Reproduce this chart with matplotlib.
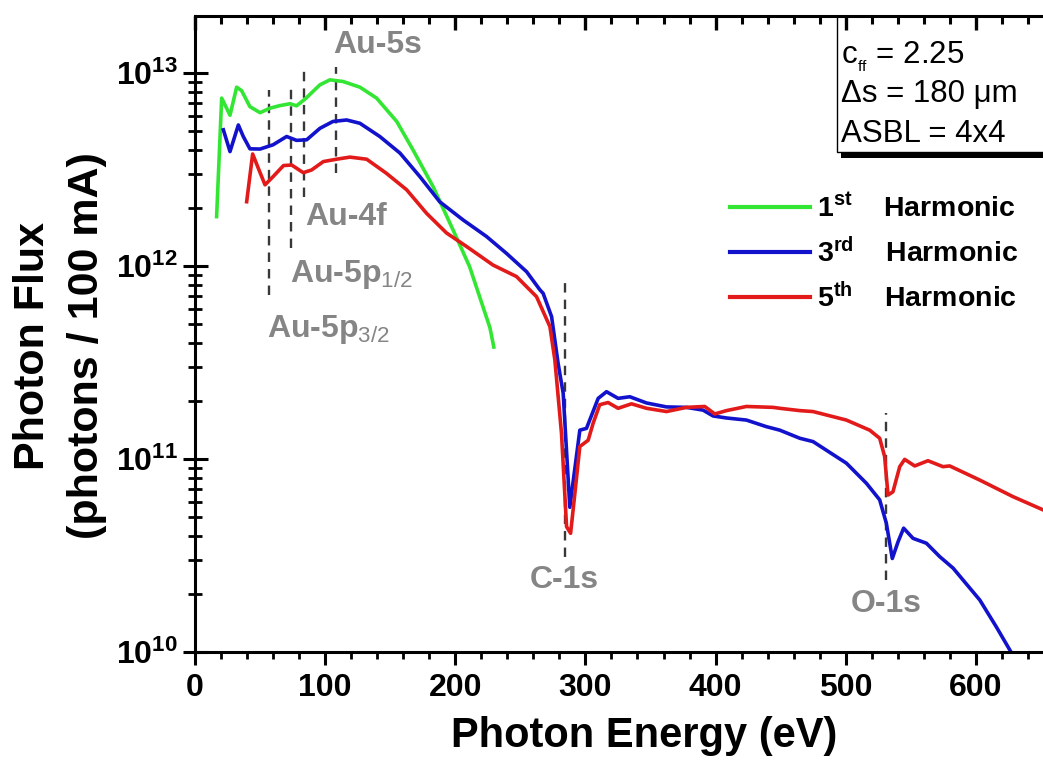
import numpy as np
import matplotlib
matplotlib.use("Agg")
import matplotlib.pyplot as plt
from matplotlib.ticker import LogLocator, FuncFormatter, NullFormatter, MultipleLocator
from matplotlib.patches import Rectangle

plt.rcParams['font.family'] = ['Liberation Sans', 'DejaVu Sans']
plt.rcParams['mathtext.fontset'] = 'custom'
plt.rcParams['mathtext.rm'] = 'Liberation Sans'
plt.rcParams['mathtext.bf'] = 'Liberation Sans:bold'
plt.rcParams['mathtext.it'] = 'Liberation Sans:italic'

# ---- data (photon energy in eV, flux in photons/100 mA)
h1_energy = [16.6, 20.5, 26.9, 32.0, 35.8, 42.2, 50.0, 57.6, 65.0, 73.0, 78.0, 84.5,
             96.0, 103.7, 113.7, 126.7, 139.5, 155.0, 167.6, 183.0, 198.4, 211.0,
             226.6, 229.6]
h1_flux = [1.80e12, 7.40e12, 6.03e12, 8.43e12, 8.09e12, 6.68e12, 6.22e12, 6.56e12,
           6.76e12, 6.92e12, 6.75e12, 7.31e12, 8.67e12, 9.20e12, 9.02e12, 8.43e12,
           7.40e12, 5.60e12, 3.98e12, 2.57e12, 1.53e12, 9.91e11, 4.79e11, 3.80e11]

h3_energy = [21.8, 26.9, 33.3, 37.1, 42.2, 50.0, 60.0, 70.4, 78.0, 85.8, 96.0, 106.0,
             116.5, 126.7, 142.0, 157.5, 172.8, 188.0, 206.0, 224.0, 239.4, 254.8,
             265.0, 267.5, 274.0, 279.0, 282.9, 288.0, 295.7, 300.8, 309.8, 316.2,
             325.1, 334.1, 346.9, 362.3, 377.6, 390.4, 398.1, 408.4, 423.7, 439.0,
             449.3, 464.7, 474.9, 500.5, 515.9, 526.1, 531.2, 535.8, 540.2, 544.5,
             551.7, 562.0, 572.2, 582.5, 603.0, 615.7, 627.0]
h3_flux = [5.07e12, 3.91e12, 5.37e12, 4.68e12, 4.04e12, 4.03e12, 4.24e12, 4.68e12,
           4.47e12, 4.50e12, 5.16e12, 5.60e12, 5.70e12, 5.48e12, 4.68e12, 3.84e12,
           2.90e12, 2.15e12, 1.73e12, 1.42e12, 1.16e12, 9.33e11, 7.52e11, 7.21e11,
           5.46e11, 3.13e11, 2.19e11, 5.62e10, 1.41e11, 1.44e11, 2.06e11, 2.23e11,
           2.06e11, 2.10e11, 1.95e11, 1.86e11, 1.85e11, 1.79e11, 1.67e11, 1.63e11,
           1.59e11, 1.47e11, 1.41e11, 1.28e11, 1.23e11, 9.51e10, 7.48e10, 6.14e10,
           4.65e10, 3.05e10, 3.72e10, 4.38e10, 3.88e10, 3.66e10, 3.12e10, 2.72e10,
           1.86e10, 1.35e10, 1.00e10]

h5_energy = [39.7, 44.3, 48.6, 53.8, 60.0, 68.0, 74.3, 83.2, 89.6, 98.6, 108.8, 119.0,
             131.9, 147.0, 162.6, 178.0, 193.3, 208.7, 229.0, 247.0, 262.4, 272.7,
             276.5, 281.6, 285.5, 288.6, 291.9, 295.7, 302.1, 305.9, 311.0, 317.4,
             325.1, 335.4, 346.9, 362.3, 377.6, 391.7, 399.4, 408.4, 423.7, 444.2,
             449.3, 464.7, 474.9, 500.5, 518.4, 526.1, 529.9, 532.5, 536.3, 541.5,
             545.3, 553.0, 563.2, 574.7, 579.9, 602.9, 628.5, 651.6]
h5_flux = [2.15e12, 3.80e12, 3.21e12, 2.63e12, 2.90e12, 3.31e12, 3.33e12, 3.04e12,
           3.14e12, 3.47e12, 3.57e12, 3.66e12, 3.57e12, 3.02e12, 2.48e12, 1.87e12,
           1.48e12, 1.26e12, 1.01e12, 8.81e11, 6.93e11, 4.85e11, 3.26e11, 1.36e11,
           4.46e10, 4.12e10, 6.64e10, 1.16e11, 1.25e11, 1.53e11, 1.91e11, 1.96e11,
           1.83e11, 1.93e11, 1.83e11, 1.76e11, 1.85e11, 1.87e11, 1.71e11, 1.78e11,
           1.87e11, 1.85e11, 1.83e11, 1.78e11, 1.76e11, 1.59e11, 1.41e11, 1.28e11,
           1.03e11, 6.50e10, 6.76e10, 9.12e10, 9.95e10, 9.20e10, 9.79e10, 9.12e10,
           9.20e10, 7.78e10, 6.38e10, 5.45e10]

# absorption edges: label, energy, dashed line bottom/top
edge_names = ['Au-5p$_{3/2}$', 'Au-5p$_{1/2}$', 'Au-4f', 'Au-5s', 'C-1s', 'O-1s']
edge_energy = [57, 74, 84, 108, 284, 531]
edge_low = [7.08e11, 1.24e12, 2.28e12, 3.03e12, 3.10e10, 2.36e10]
edge_high = [8.17e12, 8.67e12, 1.04e13, 1.07e13, 8.67e11, 1.73e11]
# label anchor (x, y baseline, alignment)
label_x = [55.3, 73, 84.5, 106, 284, 531]
label_y = [4.3e11, 8.3e11, 1.63e12, 1.27e13, 2.15e10, 1.62e10]
label_ha = ['left', 'left', 'left', 'left', 'center', 'center']

info_lines = ['c$_{{}_{\\rm ff}}$ = 2.25', '\u0394s = 180 \u03bcm', 'ASBL = 4x4']
harmonics = ['1$^{\\mathbf{st}}\\quad$ Harmonic', '3$^{\\mathbf{rd}}\\quad$ Harmonic',
             '5$^{\\mathbf{th}}\\quad$ Harmonic']

W, H = 1043, 760
fig = plt.figure(figsize=(W / 100, H / 100), dpi=100)
ax_l, ax_r, ax_t, ax_b = 195, 1106, 16, 652
rect = [ax_l / W, 1 - ax_b / H, (ax_r - ax_l) / W, (ax_b - ax_t) / H]
ax = fig.add_axes(rect)

l1, = ax.plot(h1_energy, h1_flux, color='#33e633', lw=2.6)
l3, = ax.plot(h3_energy, h3_flux, color='#1212cc', lw=2.6)
l5, = ax.plot(h5_energy, h5_flux, color='#e31a1a', lw=2.6)

ax.set_yscale('log')
ax.set_xlim(0, 700)
ax.set_ylim(1e10, 1.97e13)

ax.vlines(edge_energy, edge_low, edge_high, colors='#383838',
          linestyles=(0, (4, 3)), lw=1.7, zorder=1)
for name, x, y, ha in zip(edge_names, label_x, label_y, label_ha):
    ax.text(x, y, name, ha=ha, va='baseline', fontsize=23,
            fontweight='bold', color='#858585')

# axes styling
for side in ['left', 'bottom', 'top']:
    ax.spines[side].set_linewidth(2.2)
    ax.spines[side].set_zorder(10)
ax.spines['right'].set_visible(False)

ax.set_xticks(range(0, 601, 100))
ax.xaxis.set_minor_locator(MultipleLocator(20))
ax.yaxis.set_major_locator(LogLocator(base=10, numticks=10))
ax.yaxis.set_minor_locator(LogLocator(base=10, subs=np.arange(2, 10), numticks=10))
ax.yaxis.set_minor_formatter(NullFormatter())
ax.yaxis.set_major_formatter(FuncFormatter(
    lambda v, p: r'$\mathbf{10^{%d}}$' % round(np.log10(v))))

ax.tick_params(axis='x', which='major', direction='out', length=9, width=2.2,
               labelsize=23, pad=6, top=False)
ax.tick_params(axis='x', which='minor', direction='out', length=5, width=2,
               top=False)
ax.tick_params(axis='y', which='major', direction='inout', length=18, width=2.2,
               labelsize=23, pad=3, right=False)
ax.tick_params(axis='y', which='minor', direction='inout', length=10, width=2,
               right=False)
for lab in ax.get_xticklabels():
    lab.set_fontweight('bold')

# top axis: inward ticks, no labels, on an overlaid frameless axes
tw = fig.add_axes(rect, frameon=False)
tw.set_zorder(20)
tw.set_xlim(ax.get_xlim())
tw.yaxis.set_visible(False)
tw.xaxis.tick_top()
tw.xaxis.set_major_locator(MultipleLocator(100))
tw.xaxis.set_minor_locator(MultipleLocator(20))
tw.tick_params(axis='x', which='major', direction='in', length=10, width=2.4,
               color='black', labeltop=False, labelbottom=False, top=True,
               bottom=False)
tw.tick_params(axis='x', which='minor', direction='in', length=6, width=2.2,
               color='black', top=True, bottom=False)

ax.set_xlabel('Photon Energy (eV)', fontsize=30, fontweight='bold')
ax.xaxis.set_label_coords((644 - ax_l) / (ax_r - ax_l), -0.10)
fig.text(60 / W, 1 - 346 / H, 'Photon Flux\n(photons / 100 mA)', rotation=90,
         ha='center', va='center', fontsize=31, fontweight='bold',
         multialignment='center', linespacing=1.45)

# info box with shadow, top edge on the top spine
bx0 = (837 - ax_l) / (ax_r - ax_l)
by0 = (ax_b - 152) / (ax_b - ax_t)
ax.add_patch(Rectangle((bx0 + 0.0044, by0 - 0.0094), 0.5, 0.1, transform=ax.transAxes,
                       facecolor='black', edgecolor='none', clip_on=False, zorder=5))
ax.add_patch(Rectangle((bx0, by0), 0.5, 1 - by0, transform=ax.transAxes,
                       facecolor='white', edgecolor='black', lw=1.0,
                       clip_on=False, zorder=6))
for txt, py in zip(info_lines, [63, 102, 142]):
    ax.text((841 - ax_l) / (ax_r - ax_l), (ax_b - py) / (ax_b - ax_t), txt,
            transform=ax.transAxes, ha='left', va='baseline', fontsize=22.5,
            zorder=7)

leg = ax.legend([l1, l3, l5], harmonics, loc='upper left',
                bbox_to_anchor=(730 / W, 1 - 195 / H), bbox_transform=fig.transFigure,
                frameon=False, borderpad=0, borderaxespad=0, handlelength=2.8,
                handletextpad=0.25, labelspacing=0.5,
                prop={'size': 20.5, 'weight': 'bold'})
for hl in leg.get_lines():
    hl.set_linewidth(3)

fig.savefig('out.png', dpi=100)
